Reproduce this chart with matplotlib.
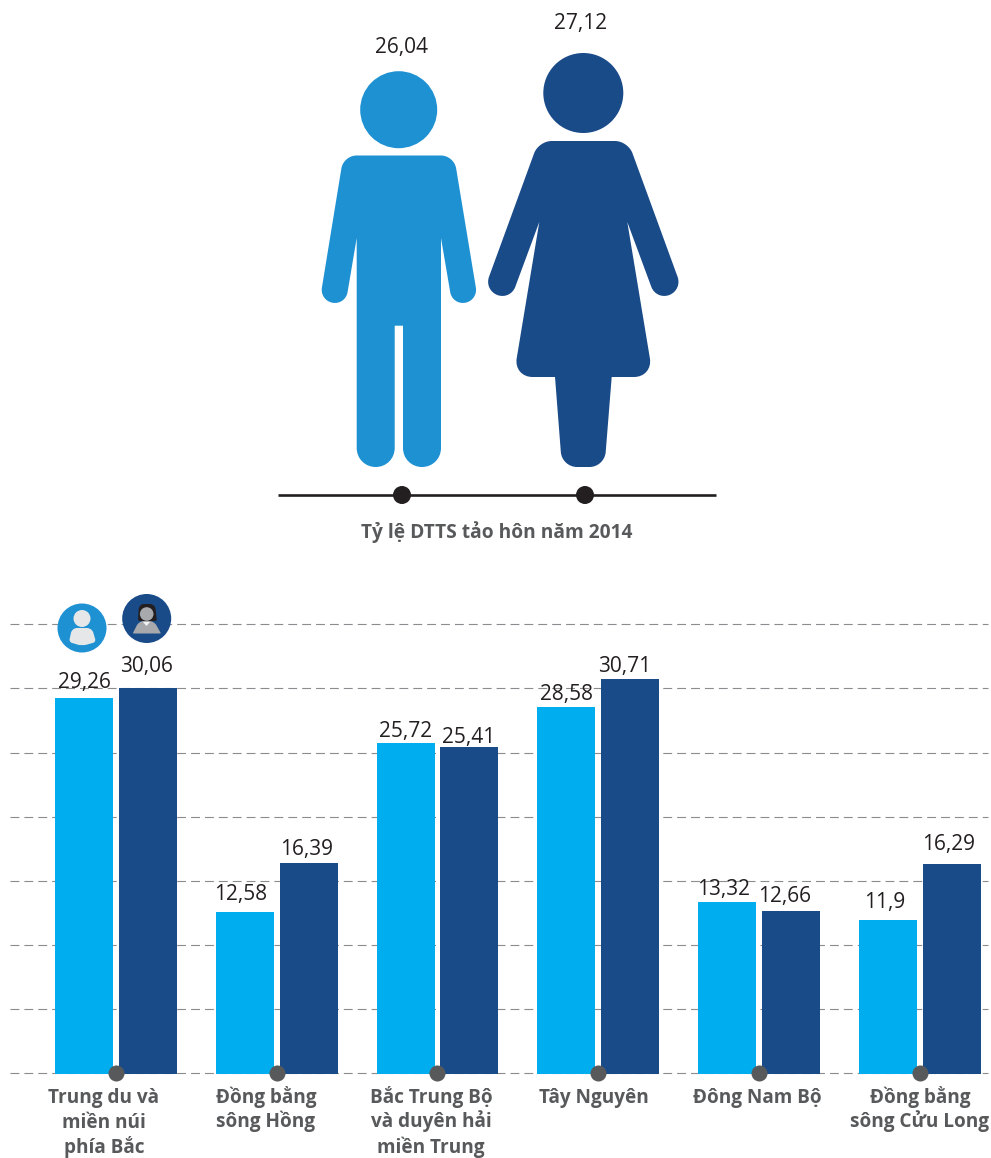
import matplotlib
matplotlib.use("Agg")
import matplotlib.pyplot as plt
import numpy as np
from matplotlib.path import Path
from matplotlib.patches import PathPatch, Circle

# ---------- data ----------
categories = ["Trung du và\nmiền núi\nphía Bắc", "Đồng bằng\nsông Hồng",
              "Bắc Trung Bộ\nvà duyên hải\nmiền Trung", "Tây Nguyên",
              "Đông Nam Bộ", "Đồng bằng\nsông Cửu Long"]
male = [29.26, 12.58, 25.72, 28.58, 13.32, 11.9]
female = [30.06, 16.39, 25.41, 30.71, 12.66, 16.29]
male_labels = ["29,26", "12,58", "25,72", "28,58", "13,32", "11,9"]
female_labels = ["30,06", "16,39", "25,41", "30,71", "12,66", "16,29"]
overall_labels = ["26,04", "27,12"]
overall_title = "Tỷ lệ DTTS tảo hôn năm 2014"
y_ticks = [0, 5, 10, 15, 20, 25, 30, 35]

# ---------- style ----------
C_MALE_BAR, C_FEMALE_BAR = "#00aeef", "#194b89"
C_MALE, C_FEMALE = "#1e91d3", "#1a4b89"
C_TEXT, C_LABEL, C_BLACK = "#231f20", "#58595b", "#231f20"
FONT = ["Open Sans", "DejaVu Sans"]
W, H = 991, 1158
PX = 0.72  # points per pixel
male_gap = [5, 6.5, 1.5, 2, 2, 7]
female_gap = [10.5, 2.5, -1, 2.5, 3.5, 9]
male_dx = [0, -4, 0, 0, -3, -3]
female_dx = [-1, -2, -1, -6, -6, -3]
label_x_px = [104, 266, 431, 594, 757, 920]

fig = plt.figure(figsize=(W / 100, H / 100), dpi=100, facecolor="white")

# ---------- bar chart ----------
left, right, top, base = 10, 988, 624.4, 1072.9
ax = fig.add_axes([left / W, 1 - base / H, (right - left) / W, (base - top) / H])
STEP, C0 = 160.75, 116
ax.set_xlim((left - C0) / STEP, (right - C0) / STEP)
ax.set_ylim(0, 35)
ax.set_facecolor("none")
for s in ax.spines.values():
    s.set_visible(False)
ax.tick_params(length=0, labelbottom=False, labelleft=False)
ax.set_xticks([])
ax.set_yticks(y_ticks)
ax.grid(axis="y", color="#8a8c8f", lw=0.8, ls=(0, (8, 4.5)), zorder=0, clip_on=False)
ax.set_axisbelow(True)
x = np.arange(len(categories))
off, bw = 32 / STEP, 58 / STEP
under = 0.08  # bars run a hair below the baseline
ax.bar(x - off, np.array(male) + under, bw, bottom=-under, color=C_MALE_BAR, zorder=2, clip_on=False)
ax.bar(x + off, np.array(female) + under, bw, bottom=-under, color=C_FEMALE_BAR, zorder=2, clip_on=False)
for i in x:
    ax.annotate(male_labels[i], (i - off, male[i]), xytext=(male_dx[i] * PX, male_gap[i] * PX),
                textcoords="offset points", ha="center", va="bottom",
                fontsize=15, color=C_TEXT, family=FONT, zorder=5, annotation_clip=False)
    ax.annotate(female_labels[i], (i + off, female[i]), xytext=(female_dx[i] * PX, female_gap[i] * PX),
                textcoords="offset points", ha="center", va="bottom",
                fontsize=15, color=C_TEXT, family=FONT, zorder=5, annotation_clip=False)
ax.scatter(x, [0] * len(x), s=133, color=C_LABEL, linewidths=0, zorder=4, clip_on=False)

# ---------- pixel overlay for pictograms and text ----------
ov = fig.add_axes([0, 0, 1, 1])
ov.set_xlim(0, W)
ov.set_ylim(H, 0)
ov.axis("off")
ov.patch.set_alpha(0)


def rounded(points):
    """Closed path from (x, y, corner radius) vertices."""
    n = len(points)
    verts, codes = [], []
    for i, (px, py, r) in enumerate(points):
        p = np.array([px, py], float)
        a = np.array(points[i - 1][:2], float)
        b = np.array(points[(i + 1) % n][:2], float)
        if r == 0:
            verts.append(p)
            codes.append(Path.LINETO)
            continue
        ua, ub = (a - p) / np.linalg.norm(a - p), (b - p) / np.linalg.norm(b - p)
        s, e = p + ua * r, p + ub * r
        verts += [s, s + (p - s) * 0.56, e + (p - e) * 0.56, e]
        codes += [Path.LINETO, Path.CURVE4, Path.CURVE4, Path.CURVE4]
    codes[0] = Path.MOVETO
    verts.append(verts[0])
    codes.append(Path.CLOSEPOLY)
    return Path(verts, codes)


def shape(points, color, z=3):
    ov.add_patch(PathPatch(rounded(points), fc=color, ec="none", zorder=z))


# man
ov.add_patch(Circle((398.7, 109.7), 38.5, fc=C_MALE, ec="none"))
shape([(343.5, 155.5, 13), (454, 155.5, 13), (478, 300.5, 13), (452.4, 305, 13), (441, 238, 0),
       (441, 467, 19), (403, 467, 19), (403, 325.7, 0), (394.7, 325.7, 0), (394.7, 467, 19),
       (356.7, 467, 19), (356.7, 238, 0), (345.4, 305, 13), (319.8, 300.5, 13)], C_MALE)
# woman
ov.add_patch(Circle((583.3, 93), 40, fc=C_FEMALE, ec="none"))
shape([(538.6, 141, 13), (628, 141, 13), (682.4, 290, 14), (656.2, 300, 14), (627.3, 222, 0),
       (653, 377, 19), (611.7, 377, 0), (604.5, 467, 15), (562, 467, 15), (555, 377, 0),
       (513.6, 377, 19), (539.3, 222, 0), (510.4, 300, 14), (484.2, 290, 14)], C_FEMALE)

ov.plot([278, 716], [494.5, 494.5], color=C_BLACK, lw=1.9, solid_capstyle="butt", zorder=3)
ov.add_patch(Circle((402, 495), 9, fc=C_BLACK, ec="none", zorder=4))
ov.add_patch(Circle((585, 495), 9, fc=C_BLACK, ec="none", zorder=4))
ov.text(402, 47, overall_labels[0], ha="center", va="center", fontsize=15, color=C_TEXT, family=FONT)
ov.text(581, 24, overall_labels[1], ha="center", va="center", fontsize=15, color=C_TEXT, family=FONT)
ov.text(497, 532.5, overall_title, ha="center", va="center", fontsize=13.8, fontweight="bold",
        color=C_LABEL, family=FONT)

# avatars
ov.add_patch(Circle((82, 628), 24.5, fc=C_MALE, ec="none", zorder=6))
ov.add_patch(Circle((82, 618.5), 8.5, fc="#e6e7e8", ec="none", zorder=7))
shape([(72, 628, 5), (92, 628, 5), (96, 642, 3), (82, 646, 5), (69, 642, 3)], "#e6e7e8", 7)
ov.add_patch(Circle((146.7, 618.5), 24.5, fc=C_FEMALE, ec="none", zorder=6))
shape([(139, 604, 5), (155, 604, 5), (157, 621, 2), (138, 621, 2)], "#231f20", 7)
ov.add_patch(Circle((146.7, 614), 6.8, fc="#a7a9ac", ec="none", zorder=8))
shape([(139, 621, 5), (154, 621, 5), (161, 633.5, 1), (132.7, 633.5, 1)], "#a7a9ac", 7)
shape([(143, 622, 0), (150, 622, 0), (146.5, 626, 0)], "#f1f2f2", 8)

# category labels, one baseline per line
for xp, lab in zip(label_x_px, categories):
    for k, line in enumerate(lab.split("\n")):
        ov.text(xp, 1102.5 + 25 * k, line, ha="center", va="baseline", fontsize=13.7, fontweight="bold",
                color=C_LABEL, family=FONT, zorder=6)

fig.savefig("out.png", dpi=100, facecolor="white")
